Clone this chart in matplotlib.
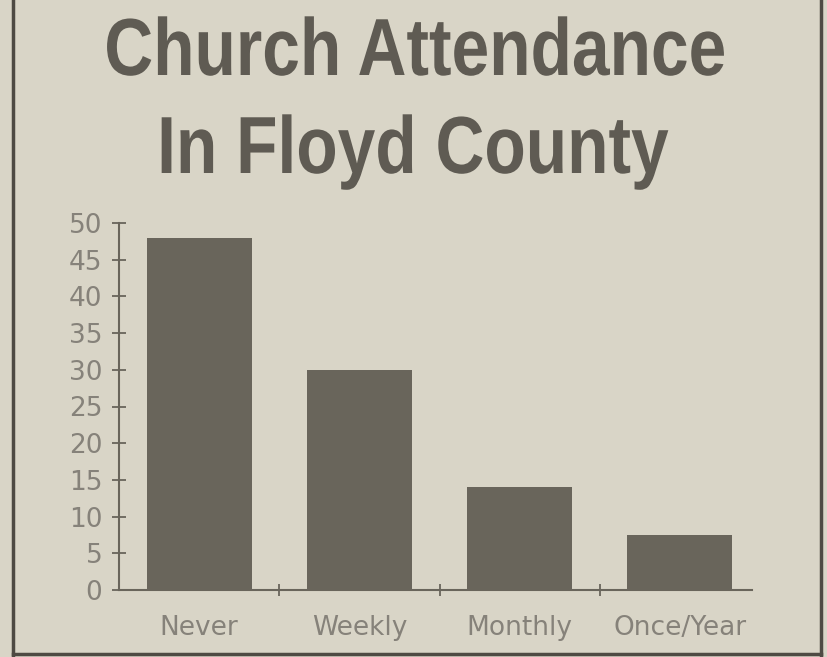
import matplotlib
matplotlib.use('Agg')
import matplotlib.pyplot as plt
from matplotlib.lines import Line2D
from matplotlib.textpath import TextPath
from matplotlib.patches import PathPatch
from matplotlib.font_manager import FontProperties
from matplotlib.transforms import Affine2D, IdentityTransform

#Chart data
categories = ['Never', 'Weekly', 'Monthly', 'Once/Year']
values = [48, 30, 14, 7.5]
y_ticks = [0, 5, 10, 15, 20, 25, 30, 35, 40, 45, 50]
title_lines = ['Church Attendance', 'In Floyd County']

#Colours of the scanned paper
paper = '#d9d5c7'
ink = '#69655b'
label_ink = '#86827a'
title_ink = '#5f5b53'

W, H = 828, 657
fig = plt.figure(figsize=(W/100, H/100), dpi=100)
fig.patch.set_facecolor(paper)

ax = fig.add_axes([119/W, 67/H, 633/W, 367/H])
ax.set_facecolor('none')

x = range(len(categories))
ax.bar(x, values, width=0.655, color=ink, edgecolor='none')

ax.set_xlim(-0.5, 3.45)
ax.set_ylim(0, 50)

for s in ['top', 'right']:
    ax.spines[s].set_visible(False)
for s in ['left', 'bottom']:
    ax.spines[s].set_color(ink)
    ax.spines[s].set_linewidth(1.5)

ax.set_yticks(y_ticks)
ax.set_yticklabels([str(t) for t in y_ticks])
ax.tick_params(axis='y', direction='inout', length=10, width=1.3, color=ink,
               labelsize=19, labelcolor=label_ink, pad=7)

ax.set_xticks(list(x))
ax.set_xticklabels(categories)
ax.set_xticks([0.5, 1.5, 2.5], minor=True)
ax.tick_params(axis='x', which='major', length=0, labelsize=19,
               labelcolor=label_ink, pad=18)
ax.tick_params(axis='x', which='minor', direction='inout', length=8,
               width=1.3, color=ink)

for lab in ax.get_xticklabels() + ax.get_yticklabels():
    lab.set_family('DejaVu Sans')

#Title: bold sans, squeezed sideways like the condensed type of the clipping
title_font = FontProperties(family='Liberation Sans', weight='bold')

def condensed_title(text, cx, baseline, size, squeeze):
    tp = TextPath((0, 0), text, size=size, prop=title_font)
    bb = tp.get_extents()
    width = bb.width * squeeze
    tr = Affine2D().scale(squeeze, 1).translate(cx - width/2 - bb.x0*squeeze,
                                                H - baseline)
    patch = PathPatch(tr.transform_path(tp), facecolor=title_ink,
                      edgecolor='none', transform=IdentityTransform())
    fig.add_artist(patch)

condensed_title(title_lines[0], 415.5, 75, 81, 0.836)
condensed_title(title_lines[1], 415, 173, 81, 0.836)

#Frame lines of the clipping
fig.add_artist(Line2D([13/W, 13/W], [0, 1], color='#4e4a43', lw=2.5))
fig.add_artist(Line2D([821/W, 821/W], [0, 1], color='#4e4a43', lw=2.5))
fig.add_artist(Line2D([13/W, 821/W], [3/H, 3/H], color='#4e4a43', lw=2.5))

fig.savefig('out.png', dpi=100, facecolor=fig.get_facecolor())
